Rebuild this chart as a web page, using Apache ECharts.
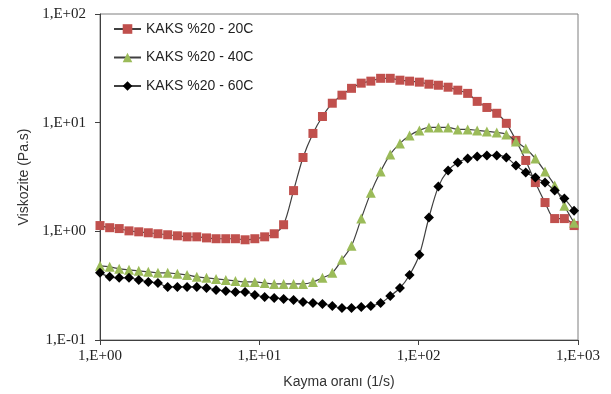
<!DOCTYPE html>
<html>
<head>
<meta charset="utf-8">
<script src="https://cdn.jsdelivr.net/npm/echarts@6/dist/echarts.min.js"></script>
<style>
  html, body { margin: 0; padding: 0; background: #fff; }
  #chart { width: 611px; height: 394px; }
</style>
</head>
<body>
<div id="chart"></div>
<script>
// shear rate (1/s), shared by all three series
const shearRate = [
  1.00, 1.15, 1.32, 1.52, 1.75, 2.01, 2.31, 2.66, 3.06, 3.52,
  4.05, 4.66, 5.35, 6.16, 7.08, 8.14, 9.37, 10.8, 12.4, 14.2,
  16.4, 18.8, 21.7, 24.9, 28.7, 33.0, 37.9, 43.6, 50.1, 57.7,
  66.3, 76.3, 87.7, 101, 116, 133, 153, 176, 203, 233,
  268, 309, 355, 408, 470, 540, 621, 714, 821, 945
]

// viscosity (Pa.s)
const visc20C = [
  1.13, 1.08, 1.06, 1.01, 0.99, 0.97, 0.95, 0.93, 0.91, 0.89,
  0.89, 0.87, 0.855, 0.855, 0.855, 0.836, 0.855, 0.89, 0.95, 1.15,
  2.37, 4.78, 7.96, 11.4, 15.1, 17.9, 20.7, 23.1, 24.1, 25.6,
  25.6, 24.6, 24.1, 23.6, 22.6, 22.1, 21.2, 19.9, 18.6, 15.7,
  13.8, 12.2, 9.86, 6.87, 4.49, 2.81, 1.84, 1.31, 1.31, 1.13
]
const visc40C = [
  0.481, 0.471, 0.452, 0.442, 0.433, 0.424, 0.415, 0.415, 0.406, 0.397,
  0.381, 0.373, 0.365, 0.357, 0.350, 0.342, 0.342, 0.335, 0.328, 0.328,
  0.328, 0.328, 0.342, 0.373, 0.415, 0.547, 0.736, 1.31, 2.27, 3.55,
  5.10, 6.44, 7.63, 8.49, 9.05, 9.05, 9.05, 8.67, 8.67, 8.49,
  8.31, 8.13, 7.80, 6.72, 5.79, 4.68, 3.55, 2.64, 1.72, 1.20
]
const visc60C = [
  0.415, 0.381, 0.373, 0.373, 0.357, 0.342, 0.335, 0.308, 0.308, 0.308,
  0.308, 0.301, 0.289, 0.283, 0.277, 0.277, 0.260, 0.249, 0.244, 0.239,
  0.234, 0.224, 0.219, 0.215, 0.206, 0.197, 0.197, 0.201, 0.206, 0.219,
  0.254, 0.301, 0.397, 0.608, 1.34, 2.58, 3.63, 4.30, 4.68, 4.89,
  4.99, 4.99, 4.78, 4.03, 3.48, 3.13, 2.81, 2.37, 2.00, 1.55
]

const seriesNames = ['KAKS %20 - 20C', 'KAKS %20 - 40C', 'KAKS %20 - 60C']

const pairs = ys => shearRate.map((x, i) => [x, ys[i]])

// Excel-style "1,E+02" labels
const sciLabel = v => {
  const e = Math.round(Math.log10(v))
  const s = Math.abs(e) < 10 ? '0' + Math.abs(e) : '' + Math.abs(e)
  return '1,E' + (e < 0 ? '-' : '+') + s
}

const chart = echarts.init(document.getElementById('chart'))

const serif = '"Liberation Serif", "Times New Roman", serif'
const sans = '"Liberation Sans", "Noto Sans", sans-serif'

const lineStyle = { color: '#404040', width: 1.2 }

chart.setOption({
  animation: false,
  backgroundColor: '#fff',
  grid: {
    left: 100,
    right: 33,
    top: 14,
    bottom: 54,
    show: true,
    borderColor: '#7f7f7f',
    borderWidth: 1
  },
  legend: {
    orient: 'vertical',
    left: 108,
    top: 17,
    itemWidth: 27,
    itemHeight: 12,
    itemGap: 14.5,
    textStyle: { fontFamily: sans, fontSize: 14, color: '#1f1f1f' },
    data: seriesNames
  },
  xAxis: {
    type: 'log',
    logBase: 10,
    min: 1,
    max: 1000,
    name: 'Kayma oranı (1/s)',
    nameLocation: 'middle',
    nameGap: 35,
    nameTextStyle: { fontFamily: sans, fontSize: 14, color: '#333' },
    axisLine: { lineStyle: { color: '#404040', width: 1 } },
    axisTick: { show: true, length: 5, lineStyle: { color: '#404040' } },
    minorTick: { show: false },
    splitLine: { show: false },
    axisLabel: {
      fontFamily: serif,
      fontSize: 15,
      color: '#222',
      margin: 9,
      formatter: sciLabel
    }
  },
  yAxis: {
    type: 'log',
    logBase: 10,
    min: 0.1,
    max: 100,
    name: 'Viskozite (Pa.s)',
    nameLocation: 'middle',
    nameGap: 58,
    nameTextStyle: { fontFamily: sans, fontSize: 14, color: '#333' },
    axisLine: { show: true, lineStyle: { color: '#404040', width: 1 } },
    axisTick: { show: true, length: 5, lineStyle: { color: '#404040' } },
    splitLine: { show: false },
    axisLabel: {
      fontFamily: serif,
      fontSize: 15,
      color: '#222',
      margin: 14,
      formatter: sciLabel
    }
  },
  series: [
    {
      name: seriesNames[0],
      type: 'line',
      data: pairs(visc20C),
      smooth: 0.3,
      symbol: 'rect',
      symbolSize: 9,
      itemStyle: { color: '#c0504d' },
      lineStyle: lineStyle,
      z: 3
    },
    {
      name: seriesNames[1],
      type: 'line',
      data: pairs(visc40C),
      smooth: 0.3,
      symbol: 'triangle',
      symbolSize: 10,
      itemStyle: { color: '#9bbb59' },
      lineStyle: lineStyle,
      z: 4
    },
    {
      name: seriesNames[2],
      type: 'line',
      data: pairs(visc60C),
      smooth: 0.3,
      symbol: 'diamond',
      symbolSize: 10,
      itemStyle: { color: '#000' },
      lineStyle: lineStyle,
      z: 5
    }
  ]
})
</script>
</body>
</html>
